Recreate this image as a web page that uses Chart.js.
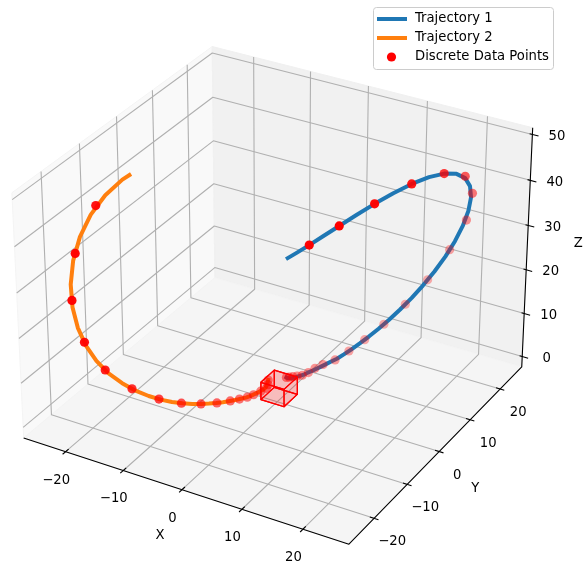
<!DOCTYPE html>
<html><head><meta charset="utf-8">
<script src="https://cdn.jsdelivr.net/npm/chart.js@4/dist/chart.umd.min.js"></script>
<style>body{margin:0;background:#fff}canvas{display:block}</style></head>
<body><canvas id="c" width="586" height="561"></canvas>
<script>
// tick labels
const xTicks=[-20,-10,0,10,20];
const yTicks=[-20,-10,0,10,20];
const zTicks=[0,10,20,30,40,50];
// axis limits
const xLim=[-27.4,27.4];
const yLim=[-27.4,27.4];
const zLim=[-2.45,51.45];
// trajectory 1
const traj1X=[1.00,1.01,1.05,1.11,1.19,1.29,1.41,1.55,1.72,1.91,2.13,2.38,2.66,2.98,3.34,3.74,4.18,4.68,5.24,5.86,6.54,7.30,8.12,9.03,10.00,11.04,12.14,13.28,14.45,15.59,16.68,17.67,18.51,19.13,19.49,19.56,19.30,18.72,17.84,16.71,15.37,13.88,12.30,10.69,9.10,7.55,6.38];
const traj1Y=[1.00,1.26,1.52,1.80,2.09,2.40,2.74,3.11,3.52,3.97,4.47,5.03,5.65,6.34,7.11,7.96,8.91,9.96,11.11,12.36,13.73,15.20,16.77,18.41,20.10,21.78,23.39,24.84,26.04,26.86,27.18,26.88,25.88,24.13,21.67,18.60,15.10,11.40,7.70,4.22,1.11,-1.54,-3.71,-5.40,-6.67,-7.58,-8.08];
const traj1Z=[2.90,2.60,2.40,2.20,2.00,1.90,1.80,1.75,1.70,1.65,1.65,1.70,1.75,1.85,1.95,2.10,2.30,2.46,2.91,3.47,4.18,5.06,6.14,7.47,9.08,11.02,13.31,15.99,19.06,22.48,26.21,30.11,34.04,37.81,41.19,44.00,46.08,47.36,47.83,47.59,46.76,45.49,43.95,42.28,40.57,38.92,37.68];
// trajectory 2
const traj2X=[-1.00,-1.01,-1.05,-1.11,-1.19,-1.29,-1.41,-1.55,-1.72,-1.91,-2.13,-2.38,-2.66,-2.98,-3.34,-3.74,-4.18,-4.68,-5.24,-5.86,-6.54,-7.30,-8.12,-9.03,-10.00,-11.29,-12.39,-13.78,-14.95,-16.09,-17.18,-18.17,-19.01,-19.63,-19.99,-20.06,-19.80,-19.22,-18.90];
const traj2Y=[-1.00,-1.26,-1.52,-1.80,-2.09,-2.40,-2.74,-3.11,-3.52,-3.97,-4.47,-5.03,-5.65,-6.34,-7.11,-7.96,-8.91,-9.96,-11.11,-12.36,-13.73,-15.20,-16.77,-18.41,-20.10,-21.78,-23.39,-24.84,-26.04,-26.86,-27.18,-26.88,-25.88,-24.13,-21.67,-18.60,-15.10,-11.40,-10.00];
const traj2Z=[2.90,2.20,1.70,1.50,1.45,1.40,1.35,1.30,1.25,1.20,1.15,1.19,1.29,1.42,1.60,1.82,2.10,2.46,2.91,3.47,4.18,5.06,6.14,7.47,9.08,11.02,13.31,15.99,19.06,22.48,26.21,30.11,34.04,37.81,41.19,44.00,46.08,47.36,47.60];
// discrete points
const pointsX=[1.00,1.10,1.30,1.60,1.97,2.44,2.95,3.58,4.53,5.65,6.95,8.58,10.48,12.60,14.96,17.30,19.06,19.49,19.30,17.84,15.37,12.30,9.10,
 -1.00,-0.90,-0.90,-1.30,-1.81,-2.33,-2.92,-3.62,-4.63,-5.86,-7.38,-9.17,-11.56,-14.08,-16.31,-18.42,-19.74,-19.97];
const pointsY=[1.00,1.70,2.40,3.20,4.12,5.15,6.27,7.62,9.64,11.94,14.52,17.59,20.87,23.97,26.41,27.06,25.18,21.67,15.10,7.70,1.11,-3.71,-6.67,
 -1.00,-1.20,-1.70,-2.70,-3.95,-4.92,-6.20,-7.70,-9.86,-12.36,-15.36,-18.65,-22.10,-25.15,-26.92,-26.58,-23.39,-17.38];
const pointsZ=[2.90,2.50,2.20,1.90,1.60,1.70,2.10,2.30,2.35,3.28,4.66,6.80,9.97,14.38,20.60,27.77,35.55,41.60,46.08,47.83,46.76,43.95,40.57,
 2.90,2.00,1.50,1.40,1.25,1.17,1.39,1.75,2.42,3.47,5.17,7.70,11.48,16.79,23.23,31.29,38.82,45.20];
// highlighted cube
const cubeX=[-1.8,2.2];
const cubeY=[-1.8,2.2];
const cubeZ=[-1.4,2.6];

const legendNames=['Trajectory 1','Trajectory 2','Discrete Data Points'];

// same view as mplot3d elev=30 azim=-60, box 4:4:3
const boxAspect=[1.1905,1.1905,0.8929];
function project(x,y,z){
  const px=((x-xLim[0])/(xLim[1]-xLim[0])-.5)*boxAspect[0];
  const py=((y-yLim[0])/(yLim[1]-yLim[0])-.5)*boxAspect[1];
  const pz=((z-zLim[0])/(zLim[1]-zLim[0])-.5)*boxAspect[2];
  const w=.4330127*px-.75*py+.5*pz;
  const d=10-w;
  return {x:(.8660254*px+.5*py)/d, y:(-.25*px+.4330127*py+.8660254*pz)/d, depth:w};
}

const datasets=[];
function addPath(pts,color,width,fillColor,label){
  datasets.push({
    label:label||'',
    data:pts.map(p=>project(p[0],p[1],p[2])),
    showLine:true,
    borderColor:color,
    borderWidth:width,
    borderCapStyle:label?'square':'butt',
    borderJoinStyle:'round',
    pointRadius:0,
    fill:fillColor?'shape':false,
    backgroundColor:fillColor||'transparent',
    order:-datasets.length
  });
}
const [x0,x1]=xLim,[y0,y1]=yLim,[z0,z1]=zLim;
// panes
addPath([[x0,y0,z0],[x0,y1,z0],[x0,y1,z1],[x0,y0,z1],[x0,y0,z0]],'#f4f4f4',1,'#f9f9f9');
addPath([[x0,y1,z0],[x1,y1,z0],[x1,y1,z1],[x0,y1,z1],[x0,y1,z0]],'#f0f0f0',1,'#f1f1f1');
addPath([[x0,y0,z0],[x1,y0,z0],[x1,y1,z0],[x0,y1,z0],[x0,y0,z0]],'#f3f3f3',1,'#f5f5f5');
// grid
const gridColor='#b0b0b0';
xTicks.forEach(t=>addPath([[t,y0,z0],[t,y1,z0],[t,y1,z1]],gridColor,1.1));
yTicks.forEach(t=>addPath([[x1,t,z0],[x0,t,z0],[x0,t,z1]],gridColor,1.1));
zTicks.forEach(t=>addPath([[x0,y0,t],[x0,y1,t],[x1,y1,t]],gridColor,1.1));
// axis lines and ticks
addPath([[x0,y0,z0],[x1,y0,z0],[x1,y1,z0],[x1,y1,z1]],'#000',1.1);
xTicks.forEach(t=>addPath([[t,y0-.8,z0],[t,y0+.8,z0]],'#000',1.1));
yTicks.forEach(t=>addPath([[x1-.7,t,z0],[x1+.7,t,z0]],'#000',1.1));
zTicks.forEach(t=>addPath([[x1-.45,y1,t],[x1+1,y1,t]],'#000',1.1));
// trajectories
addPath(traj1X.map((v,i)=>[v,traj1Y[i],traj1Z[i]]),'#1f77b4',4,null,legendNames[0]);
addPath(traj2X.map((v,i)=>[v,traj2Y[i],traj2Z[i]]),'#ff7f0e',4,null,legendNames[1]);
// cube
const cubeFaces=[
 [[0,0,0],[1,0,0],[1,1,0],[0,1,0]],[[0,0,1],[1,0,1],[1,1,1],[0,1,1]],
 [[0,0,0],[1,0,0],[1,0,1],[0,0,1]],[[0,1,0],[1,1,0],[1,1,1],[0,1,1]],
 [[0,0,0],[0,1,0],[0,1,1],[0,0,1]],[[1,0,0],[1,1,0],[1,1,1],[1,0,1]]];
cubeFaces.forEach(f=>{
  const pts=f.map(c=>[cubeX[c[0]],cubeY[c[1]],cubeZ[c[2]]]);
  addPath(pts.concat([pts[0]]),'#ff0000',1.2,'rgba(255,0,0,0.12)');
});
// markers, far ones first, fainter with depth like depthshade
const marks=pointsX.map((v,i)=>project(v,pointsY[i],pointsZ[i])).sort((a,b)=>a.depth-b.depth);
const dMin=Math.min(...marks.map(m=>m.depth)),dMax=Math.max(...marks.map(m=>m.depth));
datasets.push({
  label:legendNames[2],
  data:marks,
  pointRadius:4.6,
  borderWidth:0,
  pointBorderWidth:0,
  pointBackgroundColor:marks.map(m=>'rgba(255,0,0,'+(.3+.7*(m.depth-dMin)/(dMax-dMin)).toFixed(3)+')'),
  order:-datasets.length
});

const textFont='13.2px "DejaVu Sans"';
const axisText={
  id:'axisText',
  afterDatasetsDraw(chart){
    const {ctx,scales}=chart;
    const at=(x,y,z)=>{const p=project(x,y,z);return [scales.x.getPixelForValue(p.x),scales.y.getPixelForValue(p.y)];};
    ctx.save();
    ctx.font=textFont;
    ctx.fillStyle='#000';
    ctx.textAlign='center';
    ctx.textBaseline='middle';
    const fmt=t=>t<0?'\u2212'+(-t):String(t);
    xTicks.forEach(t=>{const p=at(t,y0,z0);ctx.fillText(fmt(t),p[0]-9.5,p[1]+28.5);});
    yTicks.forEach(t=>{const p=at(x1,t,z0);ctx.fillText(fmt(t),p[0]+18,p[1]+23.5);});
    zTicks.forEach(t=>{const p=at(x1,y1,t);ctx.fillText(fmt(t),p[0]+24.5,p[1]+2);});
    const lx=at(0,y0,z0),ly=at(x1,0,z0),lz=at(x1,y1,25);
    ctx.fillText('X',lx[0]-22,lx[1]+46);
    ctx.fillText('Y',ly[0]+36,ly[1]+37);
    ctx.fillText('Z',lz[0]+51,lz[1]-4);
    // legend box
    ctx.beginPath();
    ctx.roundRect(373.5,7.5,180,62,3);
    ctx.fillStyle='rgba(255,255,255,0.8)';
    ctx.fill();
    ctx.strokeStyle='#cccccc';
    ctx.lineWidth=1;
    ctx.stroke();
    const rows=[19,38,57];
    ctx.lineWidth=4;
    ctx.strokeStyle='#1f77b4';
    ctx.beginPath();ctx.moveTo(377,rows[0]);ctx.lineTo(407,rows[0]);ctx.stroke();
    ctx.strokeStyle='#ff7f0e';
    ctx.beginPath();ctx.moveTo(377,rows[1]);ctx.lineTo(407,rows[1]);ctx.stroke();
    ctx.fillStyle='#ff0000';
    ctx.beginPath();ctx.arc(391.5,rows[2],4.6,0,Math.PI*2);ctx.fill();
    ctx.fillStyle='#000';
    ctx.textAlign='left';
    legendNames.forEach((n,i)=>ctx.fillText(n,415,rows[i]));
    ctx.restore();
  }
};

new Chart('c',{
  type:'scatter',
  data:{datasets},
  plugins:[axisText],
  options:{
    responsive:false,
    animation:false,
    layout:{autoPadding:false},
    plugins:{legend:{display:false},tooltip:{enabled:false}},
    scales:{
      x:{display:false,min:-277.3/3130,max:308.7/3130},
      y:{display:false,min:-277.6/3130,max:283.4/3130}
    }
  }
});
</script></body></html>
